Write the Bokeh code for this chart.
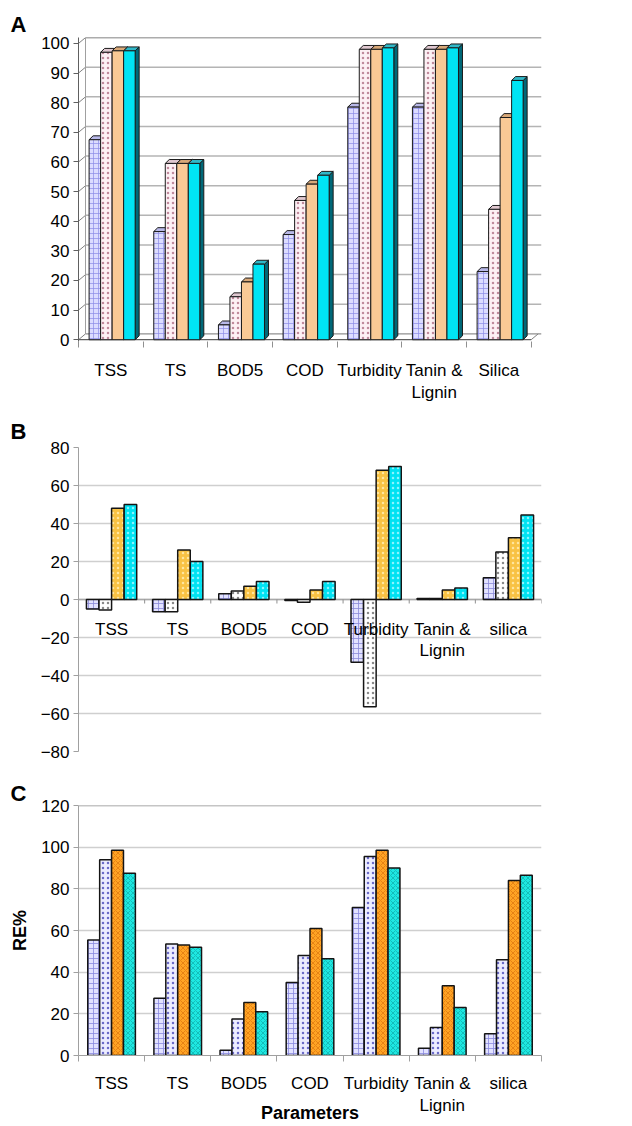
from bokeh.plotting import figure
from bokeh.layouts import column
from bokeh.models import FixedTicker, Title, Range1d
from bokeh.embed import file_html
from bokeh.resources import INLINE
from bokeh.core.properties import value

# ---------------- data ----------------
categories_a = ["TSS", "TS", "BOD5", "COD", "Turbidity", "Tanin &\nLignin", "Silica"]
categories_bc = ["TSS", "TS", "BOD5", "COD", "Turbidity", "Tanin &\nLignin", "silica"]

a_s1 = [67.5, 36.5, 5, 35.5, 78.5, 78.5, 23]
a_s2 = [97, 59.5, 14.5, 47, 98, 98, 44]
a_s3 = [97.5, 59.5, 19.5, 52.5, 98, 98, 75]
a_s4 = [97.5, 59.5, 25.5, 55.5, 98.5, 98.5, 87.5]

b_s1 = [-5, -6.5, 3, -0.5, -33, 0.5, 11.5]
b_s2 = [-5.5, -6.5, 4.5, -1.5, -56.5, 0.5, 25]
b_s3 = [48, 26, 7, 5, 68, 5, 32.5]
b_s4 = [50, 20, 9.5, 9.5, 70, 6, 44.5]

c_s1 = [55.5, 27.5, 2.5, 35, 71, 3.5, 10.5]
c_s2 = [94, 53.5, 17.5, 48, 95.5, 13.5, 46]
c_s3 = [98.5, 53, 25.5, 61, 98.5, 33.5, 84]
c_s4 = [87.5, 52, 21, 46.5, 90, 23, 86.5]

a_ticks = list(range(0, 101, 10))
b_ticks = list(range(-80, 81, 20))
c_ticks = list(range(0, 121, 20))

FONT = "Liberation Sans"
W = 632
n = len(categories_a)
idx = list(range(n))
centers = [i + 0.5 for i in idx]
bounds = list(range(n + 1))


def base(p):
    p.outline_line_color = None
    p.xgrid.visible = False
    p.background_fill_color = "white"
    p.border_fill_color = "white"
    for ax in p.yaxis:
        ax.major_label_text_font = FONT
        ax.major_label_text_font_size = "17px"
        ax.major_label_text_color = "black"
        ax.minor_tick_line_color = None
        ax.major_tick_in = 0
        ax.major_tick_out = 5
        ax.major_label_standoff = 4


def panel_title(p, letter, standoff):
    t = Title(text=letter, align="left", offset=-68, text_font=FONT, text_color="black",
              text_font_size="22px", text_font_style="bold", standoff=standoff)
    p.add_layout(t, "above")


# ---------------- panel A (3-D style) ----------------
xa0, xa1 = 0.0, 7.16
ya0, ya1 = -0.6, 102.0
A_H, A_T, A_B, A_L, A_R = 405, 37, 56, 78, 91
pa = figure(width=W, height=A_H, x_range=Range1d(xa0, xa1), y_range=Range1d(ya0, ya1),
            output_backend="svg", toolbar_location=None,
            min_border_left=A_L, min_border_right=A_R, min_border_top=A_T, min_border_bottom=A_B)
base(pa)
pa.ygrid.visible = False
panel_title(pa, "A", 2)

pxx = (W - A_L - A_R) / (xa1 - xa0)
pxy = (A_H - A_T - A_B) / (ya1 - ya0)
wdx, wdy = 7 / pxx, 6 / pxy     # back-wall depth
bdx, bdy = 4 / pxx, 4 / pxy     # bar depth

# back wall gridlines and side-wall connectors
gl = [v for v in a_ticks if v > 0]
pa.segment(x0=[wdx] * len(gl), y0=[v + wdy for v in gl], x1=[xa1] * len(gl),
           y1=[v + wdy for v in gl],
           line_color=["#5a5a5a" if v == 100 else "#b4b4b4" for v in gl], line_width=1.5)
pa.segment(x0=[0] * len(a_ticks), y0=a_ticks, x1=[wdx] * len(a_ticks),
           y1=[v + wdy for v in a_ticks], line_color="#808080", line_width=1)
pa.segment(x0=[wdx], y0=[wdy], x1=[wdx], y1=[100 + wdy], line_color="#a0a0a0", line_width=1)
# floor
pa.segment(x0=[wdx], y0=[wdy], x1=[xa1], y1=[wdy], line_color="#909090", line_width=1.2)
pa.segment(x0=[0], y0=[0], x1=[n], y1=[0], line_color="#606060", line_width=1.2)
pa.segment(x0=[n], y0=[0], x1=[n + wdx], y1=[wdy], line_color="#808080", line_width=1)

a_series = [a_s1, a_s2, a_s3, a_s4]
a_front = ["#dcdcff", "#fdf0f4", "#f9c995", "#00e4f4"]
a_hatch = ["+", ".", " ", " "]
a_hcol = ["#8c8ce6", "#c08a9c", "#f9c995", "#00e4f4"]
a_side = ["#6a6aa8", "#9a8088", "#a07850", "#006878"]
a_top = ["#b8b8e8", "#e0c8d0", "#d8a878", "#30b8c8"]
wa = 0.178
for k, vals in enumerate(a_series):
    x0 = [i + 0.52 + (k - 1.5) * wa - wa / 2 for i in idx]
    x1 = [x + wa for x in x0]
    side_xs = [[b, b + bdx, b + bdx, b] for b in x1]
    side_ys = [[0, bdy, v + bdy, v] for v in vals]
    top_xs = [[a, a + bdx, b + bdx, b] for a, b in zip(x0, x1)]
    top_ys = [[v, v + bdy, v + bdy, v] for v in vals]
    pa.patches(side_xs, side_ys, fill_color=a_side[k], line_color="#1a1a1a", line_width=1)
    pa.patches(top_xs, top_ys, fill_color=a_top[k], line_color="#1a1a1a", line_width=1)
    pa.quad(left=x0, right=x1, bottom=[0] * n, top=vals, fill_color=a_front[k],
            hatch_pattern=a_hatch[k], hatch_color=a_hcol[k], hatch_scale=5,
            hatch_weight=0.7, line_color="#1a1a1a", line_width=1)

pa.yaxis.ticker = FixedTicker(ticks=a_ticks)
pa.yaxis.axis_line_color = "#606060"
pa.yaxis.major_tick_line_color = "#606060"
pa.xaxis.ticker = FixedTicker(ticks=centers, minor_ticks=bounds)
pa.xaxis.major_label_overrides = {c: lab for c, lab in zip(centers, categories_a)}
pa.xaxis.axis_line_color = None
pa.xaxis.major_tick_line_color = None
pa.xaxis.minor_tick_out = 6
pa.xaxis.minor_tick_in = 0
pa.xaxis.minor_tick_line_color = "#909090"
pa.xaxis.major_label_standoff = 13
pa.xaxis.major_label_text_font = FONT
pa.xaxis.major_label_text_font_size = "17px"
pa.xaxis.major_label_text_color = "black"

# ---------------- panel B ----------------
B_H, B_T, B_B, B_L, B_R = 360, 42, 14, 78, 1
pb = figure(width=W, height=B_H, x_range=Range1d(0, n), y_range=Range1d(-80, 80),
            output_backend="svg", toolbar_location=None,
            min_border_left=B_L, min_border_right=B_R, min_border_top=B_T, min_border_bottom=B_B)
base(pb)
panel_title(pb, "B", 8)
pb.xaxis.visible = False
pb.yaxis.ticker = FixedTicker(ticks=b_ticks)
pb.yaxis.axis_line_color = "#a0a0a0"
pb.yaxis.major_tick_line_color = "#a0a0a0"
pb.ygrid.grid_line_color = "#cfcfcf"
pb.ygrid.grid_line_width = 1.5
pxy_b = (B_H - B_T - B_B) / 160.0
pb.segment(x0=[0], y0=[0], x1=[n], y1=[0], line_color="#a8a8a8", line_width=1.5)
pb.segment(x0=bounds, y0=[0] * len(bounds), x1=bounds, y1=[-4 / pxy_b] * len(bounds),
           line_color="#909090", line_width=1)

b_series = [b_s1, b_s2, b_s3, b_s4]
b_fill = ["#e2e2ff", "#ffffff", "#f8c244", "#00e2f2"]
b_hatch = ["+", ".", ".", "."]
b_hcol = ["#8a8ad8", "#8a8a8a", "#ffe6a0", "#8af4ff"]
wb = 0.19
for k, vals in enumerate(b_series):
    xs = [i + 0.5 + (k - 1.5) * wb for i in idx]
    pb.vbar(x=xs, width=wb, top=vals, bottom=0, fill_color=b_fill[k],
            hatch_pattern=b_hatch[k], hatch_color=b_hcol[k], hatch_scale=5, hatch_weight=0.8,
            line_color="#141414", line_width=1.5)
pb.text(x=centers, y=[0] * n, text=categories_bc, text_align="center", text_baseline="top",
        y_offset=20, text_font=value(FONT), text_font_size="17px", text_color="black",
        text_line_height=1.15)

# ---------------- panel C ----------------
C_H, C_T, C_B, C_L, C_R = 361, 40, 71, 78, 4
pc = figure(width=W, height=C_H, x_range=Range1d(0, n), y_range=Range1d(0, 120),
            output_backend="svg", toolbar_location=None,
            min_border_left=C_L, min_border_right=C_R, min_border_top=C_T, min_border_bottom=C_B)
base(pc)
panel_title(pc, "C", 0)
pc.yaxis.ticker = FixedTicker(ticks=c_ticks)
pc.yaxis.axis_line_color = "#a0a0a0"
pc.yaxis.major_tick_line_color = "#a0a0a0"
pc.yaxis.axis_label = "RE%"
pc.yaxis.axis_label_text_font = FONT
pc.yaxis.axis_label_text_font_size = "18px"
pc.yaxis.axis_label_text_font_style = "bold"
pc.yaxis.axis_label_text_color = "black"
pc.yaxis.axis_label_standoff = 8
pc.ygrid.grid_line_color = "#cfcfcf"
pc.ygrid.grid_line_width = 1.5
pc.segment(x0=[0], y0=[120], x1=[n], y1=[120], line_color="#8c8c8c", line_width=1.5)

c_series = [c_s1, c_s2, c_s3, c_s4]
c_fill = ["#e2e2ff", "#ececff", "#ffa424", "#1ee8e2"]
c_hatch = ["+", ".", "x", "x"]
c_hcol = ["#8a8ae0", "#6a6ac8", "#e07a10", "#10b4b0"]
wc = 0.18
for k, vals in enumerate(c_series):
    xs = [i + 0.5 + (k - 1.5) * wc for i in idx]
    pc.vbar(x=xs, width=wc, top=vals, bottom=0, fill_color=c_fill[k],
            hatch_pattern=c_hatch[k], hatch_color=c_hcol[k], hatch_scale=5, hatch_weight=0.8,
            line_color="#141414", line_width=1.5)

pc.xaxis.ticker = FixedTicker(ticks=centers, minor_ticks=bounds)
pc.xaxis.major_label_overrides = {c: lab for c, lab in zip(centers, categories_bc)}
pc.xaxis.axis_line_color = "#a0a0a0"
pc.xaxis.major_tick_line_color = None
pc.xaxis.minor_tick_out = 6
pc.xaxis.minor_tick_in = 0
pc.xaxis.minor_tick_line_color = "#a0a0a0"
pc.xaxis.major_label_standoff = 12
pc.xaxis.major_label_text_font = FONT
pc.xaxis.major_label_text_font_size = "17px"
pc.xaxis.major_label_text_color = "black"
pc.xaxis.axis_label = "Parameters"
pc.xaxis.axis_label_text_font = FONT
pc.xaxis.axis_label_text_font_size = "18px"
pc.xaxis.axis_label_text_font_style = "bold"
pc.xaxis.axis_label_text_color = "black"
pc.xaxis.axis_label_standoff = -15

layout = column(pa, pb, pc, spacing=0)
open("out.html", "w").write(file_html(layout, INLINE))
